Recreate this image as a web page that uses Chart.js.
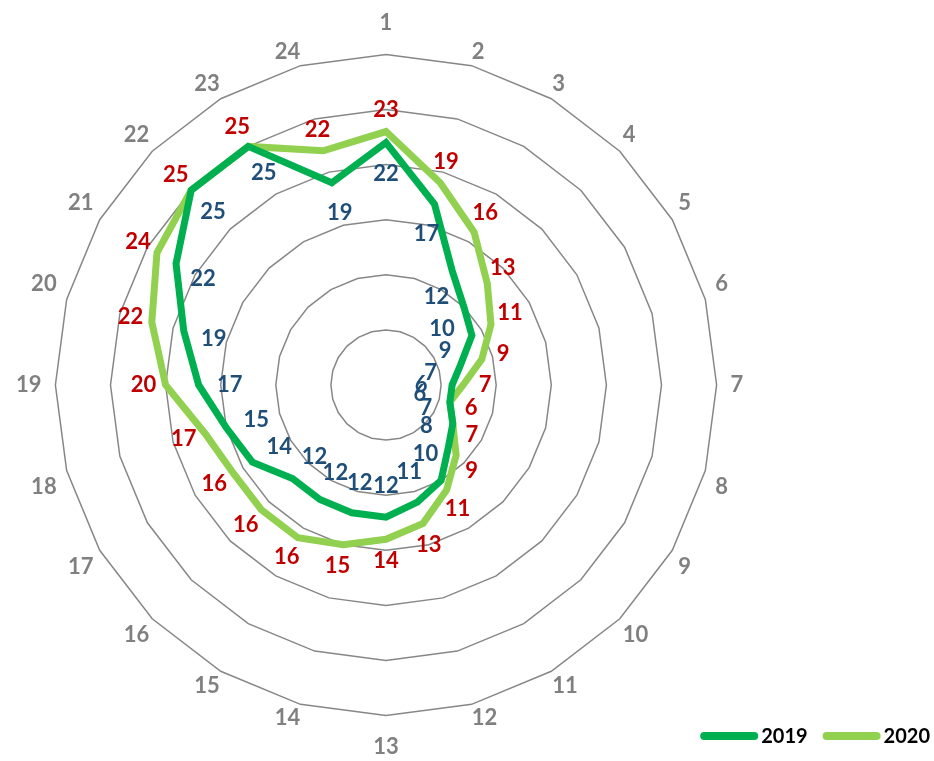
<!DOCTYPE html>
<html>
<head>
<meta charset="utf-8">
<script src="https://cdn.jsdelivr.net/npm/chart.js@4"></script>
<style>
  body { margin: 0; background: #fff; }
  canvas { display: block; }
</style>
</head>
<body>
<canvas id="radarChart" width="934" height="761"></canvas>
<script>
// Data
const categories = ['1','2','3','4','5','6','7','8','9','10','11','12',
                    '13','14','15','16','17','18','19','20','21','22','23','24'];
const values2019 = [22,17,12,10,9,7,6,6,7,8,10,11,12,12,12,12,14,15,17,19,22,25,25,19];
const values2020 = [23,19,16,13,11,9,7,6,7,9,11,13,14,15,16,16,16,17,20,22,24,25,25,22];
const seriesNames = ['2019', '2020'];

const labelFont = 'bold 22px Lato';

// value labels: 2019 inside the line, 2020 outside
const valueLabels = {
    id: 'valueLabels',
    afterDatasetsDraw(chart) {
        const ctx = chart.ctx;
        const scale = chart.scales.r;
        const cfg = [
            { color: '#1F4E79', offset: -31 },
            { color: '#C00000', offset: 22 }
        ];
        ctx.save();
        ctx.font = labelFont;
        ctx.textAlign = 'center';
        ctx.textBaseline = 'middle';
        chart.data.datasets.forEach((ds, di) => {
            const meta = chart.getDatasetMeta(di);
            meta.data.forEach((pt, i) => {
                const dx = pt.x - scale.xCenter;
                const dy = pt.y - scale.yCenter;
                const r = Math.sqrt(dx * dx + dy * dy);
                const k = (r + cfg[di].offset) / r;
                ctx.fillStyle = cfg[di].color;
                ctx.fillText(ds.data[i], scale.xCenter + dx * k, scale.yCenter + dy * k);
            });
        });
        ctx.restore();
    }
};

// legend bottom right with thick rounded lines
const lineLegend = {
    id: 'lineLegend',
    afterDraw(chart) {
        const ctx = chart.ctx;
        const y = 736;
        const lineLen = 50;
        ctx.save();
        ctx.font = 'bold 20px Lato';
        ctx.textBaseline = 'middle';
        let x = chart.width - 4;
        const items = chart.data.datasets.slice().reverse();
        items.forEach((ds) => {
            const tw = ctx.measureText(ds.label).width;
            x -= tw;
            ctx.fillStyle = '#000';
            ctx.textAlign = 'left';
            ctx.fillText(ds.label, x, y + 1);
            x -= 7;
            ctx.strokeStyle = ds.borderColor;
            ctx.lineWidth = 8;
            ctx.lineCap = 'round';
            ctx.beginPath();
            ctx.moveTo(x - lineLen, y);
            ctx.lineTo(x, y);
            ctx.stroke();
            x -= lineLen + 19;
        });
        ctx.restore();
    }
};

new Chart(document.getElementById('radarChart'), {
    type: 'radar',
    data: {
        labels: categories,
        datasets: [{
            label: seriesNames[0],
            data: values2019,
            borderColor: '#00B050',
            borderWidth: 7,
            fill: false,
            pointRadius: 0
        }, {
            label: seriesNames[1],
            data: values2020,
            borderColor: '#92D050',
            borderWidth: 7,
            fill: false,
            pointRadius: 0
        }]
    },
    options: {
        responsive: false,
        animation: false,
        layout: { padding: { left: 0, right: 174, top: 10, bottom: 0 } },
        plugins: {
            legend: { display: false },
            tooltip: { enabled: false }
        },
        scales: {
            r: {
                min: 0,
                max: 30,
                ticks: { stepSize: 5, display: false },
                grid: { circular: false, color: '#878787', lineWidth: 1.5 },
                angleLines: { display: false },
                pointLabels: {
                    color: '#808080',
                    font: { family: 'Lato', size: 22, weight: 'bold' },
                    padding: (c) => {
                        const i = c.index;
                        if (i === 0 || i === categories.length / 2) return 18;
                        const a = i * 2 * Math.PI / categories.length;
                        return 14 * (1 - Math.abs(Math.cos(a)));
                    }
                }
            }
        }
    },
    plugins: [valueLabels, lineLegend]
});
</script>
</body>
</html>
